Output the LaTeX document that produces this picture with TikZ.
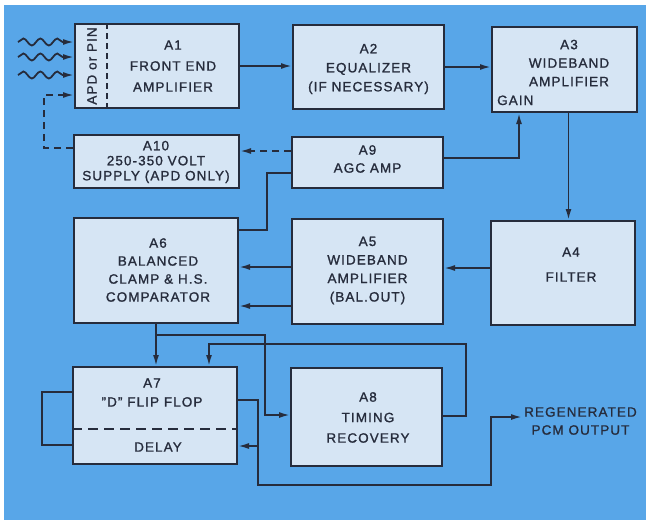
\documentclass[tikz,border=0pt]{standalone}
\usepackage{fontspec}
\setmainfont{Liberation Sans}[LetterSpace=8,FakeBold=1.2]
\usetikzlibrary{arrows.meta,decorations.pathmorphing,calc}
\definecolor{bgblue}{RGB}{88,166,232}
\definecolor{boxfill}{RGB}{214,229,244}
\definecolor{ink}{RGB}{38,44,60}
\begin{document}
\begin{tikzpicture}[x=1pt,y=-1pt,
  box/.style={draw=ink, fill=boxfill, line width=2pt, inner sep=0pt, rectangle},
  lbl/.style={text=ink, align=center, font=\fontsize{13.5}{19}\selectfont, inner sep=0pt},
  wire/.style={draw=ink, line width=1.8pt},
  arr/.style={wire, -{Latex[length=11pt,width=6pt]}},
  darr/.style={arr, dash pattern=on 7pt off 5pt},
  wave/.style={arr, decorate, decoration={snake, amplitude=3.5pt, segment length=17pt, post length=10pt}}]
\useasboundingbox (0,0) rectangle (646,520);
\fill[white] (0,0) rectangle (646,520);
\fill[bgblue] (4,5) rectangle (646,520);

% boxes
\node[box, minimum width=164pt, minimum height=84pt] (A1) at (157,66) {};
\node[box, minimum width=151pt, minimum height=84pt] (A2) at (368.5,67) {};
\node[box, minimum width=145pt, minimum height=85pt] (A3) at (564.5,69.5) {};
\node[box, minimum width=144pt, minimum height=104pt] (A4) at (563,273) {};
\node[box, minimum width=151pt, minimum height=105pt] (A5) at (367.5,271.5) {};
\node[box, minimum width=164pt, minimum height=105pt] (A6) at (156,270.5) {};
\node[box, minimum width=164pt, minimum height=97pt] (A7) at (155,415.5) {};
\node[box, minimum width=151pt, minimum height=98pt] (A8) at (366.5,417) {};
\node[box, minimum width=151pt, minimum height=51pt] (A9) at (367.5,162.5) {};
\node[box, minimum width=165pt, minimum height=53pt] (A10) at (156.5,161.5) {};

% dividers
\draw[ink, line width=1.6pt, dash pattern=on 6pt off 4pt] ([xshift=33pt]A1.north west) -- ([xshift=33pt]A1.south west);
\draw[ink, line width=1.8pt, dash pattern=on 10pt off 6pt] ([yshift=-63pt]A7.north west) -- ([yshift=-63pt]A7.north east);

% labels
\node[lbl, font=\fontsize{13.5}{21}\selectfont] (A1t) at (173,66) {A1\\FRONT END\\AMPLIFIER};
\node[lbl, rotate=90] (apd) at (92,66) {APD or PIN};
\node[lbl] (A2t) at (368.5,69) {A2\\EQUALIZER\\(IF NECESSARY)};
\node[lbl, font=\fontsize{13.5}{18.5}\selectfont] (A3t) at (569,63) {A3\\WIDEBAND\\AMPLIFIER};
\node[lbl, anchor=base west] (gain) at (497,105) {GAIN};
\node[lbl, font=\fontsize{13.5}{25}\selectfont] (A4t) at (571,264.5) {A4\\FILTER};
\node[lbl, font=\fontsize{13.5}{18.5}\selectfont] (A5t) at (367.5,270.5) {A5\\WIDEBAND\\AMPLIFIER\\(BAL.OUT)};
\node[lbl, font=\fontsize{13.5}{18}\selectfont] (A6t) at (158,270) {A6\\BALANCED\\CLAMP \& H.S.\\COMPARATOR};
\node[lbl] (A7t) at (152,392.5) {A7\\"D" FLIP FLOP};
\node[lbl] (dly) at (158,447) {DELAY};
\node[lbl, font=\fontsize{13.5}{20.5}\selectfont] (A8t) at (368,417.5) {A8\\TIMING\\RECOVERY};
\node[lbl, font=\fontsize{13.5}{18}\selectfont] (A9t) at (367.5,159) {A9\\AGC AMP};
\node[lbl, font=\fontsize{13.5}{15}\selectfont] (A10t) at (156,162) {A10\\250-350 VOLT\\SUPPLY (APD ONLY)};
\node[lbl, anchor=west, inner sep=2pt, font=\fontsize{13.5}{18}\selectfont] (out) at (522,421) {REGENERATED\\PCM OUTPUT};

% optical inputs
\coordinate (w1) at (18,42);
\coordinate (w2) at (18,57);
\coordinate (w3) at (18,75);
\draw[wave] (w1) -- ([yshift=24pt]A1.west);
\draw[wave] (w2) -- ([yshift=9pt]A1.west);
\draw[wave] (w3) -- ([yshift=-9pt]A1.west);

% main chain
\draw[arr] (A1.east) -- (A1.east -| A2.west);
\draw[arr] (A2.east) -- (A2.east -| A3.west);
\draw[arr] ([xshift=4pt]A3.south) -- ([xshift=4pt]A3.south |- A4.north);
\draw[arr] ([yshift=5pt]A4.west) -- ([yshift=5pt]A4.west -| A5.east);
\draw[arr] ([yshift=4.5pt]A5.west) -- ([yshift=4.5pt]A5.west -| A6.east);
\draw[arr] ([yshift=-34.5pt]A5.west) -- ([yshift=-34.5pt]A5.west -| A6.east);

% AGC loop
\draw[wire] ([yshift=40.5pt]A6.east) -- ++(28,0) |- ([yshift=-10.5pt]A9.west);
\draw[arr] ([yshift=4.5pt]A9.east) -| ([xshift=-45.5pt]A3.south);
\draw[darr] ([yshift=11.5pt]A9.west) -- ([yshift=11.5pt]A9.west -| A10.east);
\draw[darr] ([yshift=13.5pt]A10.west) -- ++(-29,0) |- ([yshift=-29pt]A1.west);

% regenerator
\draw[arr] (A6.south) -- (A6.south |- A7.north);
\draw[arr] ($(A6.south)+(0,11)$) -- ++(109,0) |- ([yshift=2pt]A8.west);
\draw[arr] ([yshift=1pt]A8.east) -- ++(23,0) -- ++(0,-72) -| ([xshift=54pt]A7.north);
\draw[wire] ([yshift=23.5pt]A7.west) -- ++(-30,0) |- ([yshift=-29.5pt]A7.west);
\draw[arr] ([yshift=15.5pt]A7.east) -- ++(20,0) coordinate (j) -- ++(0,85) -- ++(233,0) -- ++(0,-68) -- ([yshift=4pt]out.west);
\draw[arr] ($(j)+(0,46)$) -- ([yshift=-30.5pt]A7.east);
\end{tikzpicture}
\end{document}
